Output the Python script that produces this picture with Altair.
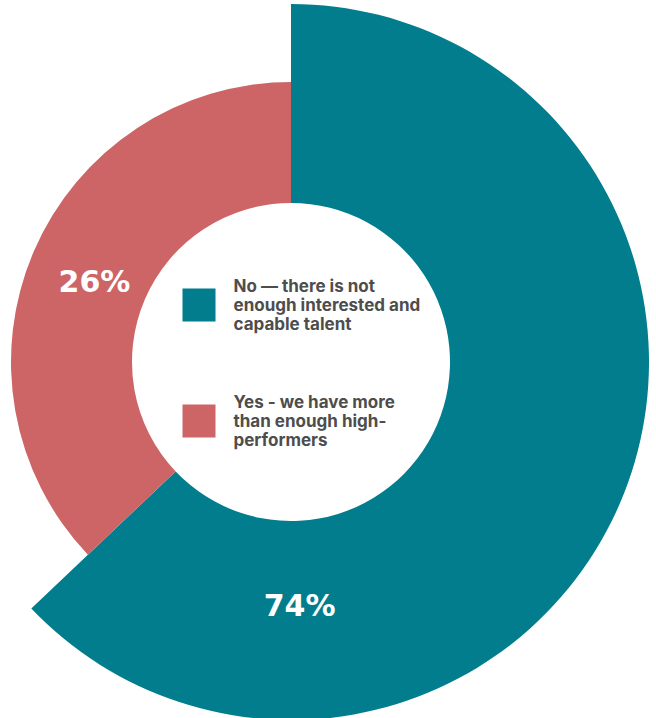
import json
import math
import altair as alt
import pandas as pd

# ---- data ----
categories = [
    "No — there is not enough interested and capable talent",
    "Yes - we have more than enough high-performers",
]
legend_lines = [
    ["No — there is not", "enough interested and", "capable talent"],
    ["Yes - we have more", "than enough high-", "performers"],
]
percent = [74, 26]
slice_degrees = [226.5, 133.5]   # angular extent of each slice as drawn
label_degrees = [178, 292]       # angular position of each % label
colors = ["#017D8D", "#CD6566"]

df = pd.DataFrame({
    "category": categories,
    "order": [0, 1],
    "pct": percent,
    "deg": slice_degrees,
    "label_deg": label_degrees,
    "label": [f"{p}%" for p in percent],
})

theta_scale = alt.Scale(domain=[0, 360], range=[0, 2 * math.pi])
color_scale = alt.Scale(domain=categories, range=colors)

label_expr = (
    f"datum.label == {json.dumps(categories[0], ensure_ascii=False)} ? "
    f"{json.dumps(legend_lines[0], ensure_ascii=False)} : "
    f"{json.dumps(legend_lines[1], ensure_ascii=False)}"
)

# square symbol, shifted down so it sits beside the middle of a 3-line label
square_path = "M-1,0.12H1V2.12H-1Z"

legend = alt.Legend(
    title=None, orient="none", legendX=182.5, legendY=264,
    symbolType=square_path, symbolSize=1089, symbolStrokeWidth=0, symbolOpacity=1,
    labelFont="Inter", labelFontSize=17, labelFontWeight="bold",
    labelColor="#4d4d4d", labelOffset=18,
    rowPadding=53, labelLimit=400, labelExpr=label_expr, padding=0,
)

base = (
    alt.Chart(df)
    .transform_window(end="sum(deg)", sort=[alt.SortField("order")], frame=[None, 0])
    .transform_calculate(start="datum.end - datum.deg")
)

def arc_layer(idx, outer):
    return (
        base.transform_filter(f"datum.order == {idx}")
        .mark_arc(innerRadius=159, outerRadius=outer, strokeWidth=0)
        .encode(
            theta=alt.Theta("start:Q", scale=theta_scale),
            theta2="end:Q",
            color=alt.Color("category:N", scale=color_scale, legend=legend),
        )
    )

def text_layer(idx, r):
    return (
        base.transform_filter(f"datum.order == {idx}")
        .mark_text(radius=r, font="DejaVu Sans", fontSize=30, fontWeight="bold",
                   color="white", baseline="middle", align="center")
        .encode(theta=alt.Theta("label_deg:Q", scale=theta_scale), text="label:N")
    )

chart = (
    alt.layer(arc_layer(0, 358), arc_layer(1, 280), text_layer(0, 245), text_layer(1, 212))
    .properties(
        width=582, height=712,
        padding={"left": 0, "top": 6, "right": 74, "bottom": 0},
        autosize="none",
    )
    .configure_view(stroke=None)
    .configure(background="white")
)

chart.save("out.html", embed_options={"renderer": "svg", "actions": False})
